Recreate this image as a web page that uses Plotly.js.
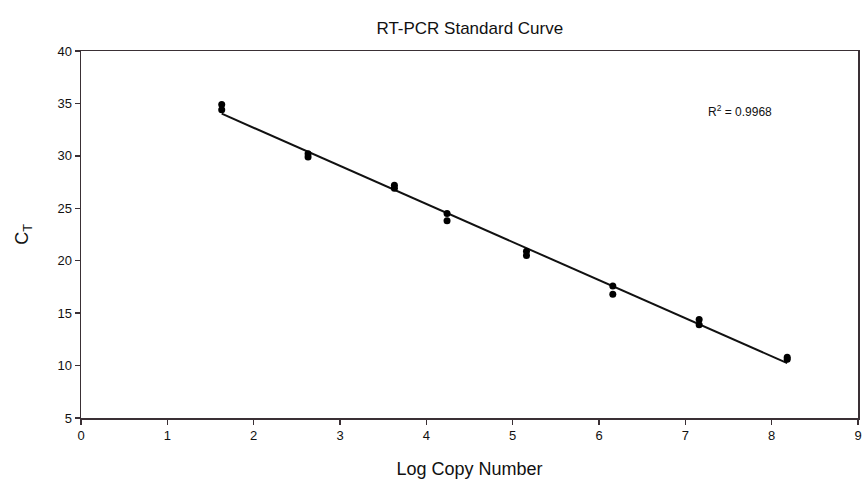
<!DOCTYPE html>
<html>
<head>
<meta charset="utf-8">
<script src="https://cdn.plot.ly/plotly-3.0.1.min.js"></script>
<style>html,body{margin:0;padding:0;background:#fff;}#chart{width:862px;height:480px;}</style>
</head>
<body>
<div id="chart"></div>
<script>
// Replicate measurements (log copy number, Ct)
const logCopy = [1.63, 1.63, 2.63, 2.63, 3.63, 3.63, 4.24, 4.24, 5.16, 5.16, 6.16, 6.16, 7.16, 7.16, 8.18, 8.18];
const ctValues = [34.9, 34.4, 30.2, 29.9, 27.2, 26.9, 24.5, 23.8, 20.9, 20.5, 17.6, 16.8, 14.4, 13.9, 10.8, 10.6];
const xTicks = [0, 1, 2, 3, 4, 5, 6, 7, 8, 9];
const yTicks = [5, 10, 15, 20, 25, 30, 35, 40];
const r2Label = "R<sup>2</sup> = 0.9968";

// least-squares fit of the points
const n = logCopy.length;
const mx = logCopy.reduce((a, b) => a + b, 0) / n;
const my = ctValues.reduce((a, b) => a + b, 0) / n;
let sxy = 0, sxx = 0;
for (let i = 0; i < n; i++) { sxy += (logCopy[i] - mx) * (ctValues[i] - my); sxx += (logCopy[i] - mx) ** 2; }
const slope = sxy / sxx, intercept = my - slope * mx;
const xMin = Math.min(...logCopy), xMax = Math.max(...logCopy);
const fitX = [xMin, xMax];
const fitY = fitX.map(x => intercept + slope * x);

const traces = [
  {x: fitX, y: fitY, mode: 'lines', line: {color: '#111', width: 2}, hoverinfo: 'skip'},
  {x: logCopy, y: ctValues, mode: 'markers', marker: {color: '#000', size: 7, symbol: 'circle'}}
];

const FONT = 'Liberation Sans, Arial, sans-serif';
const axisCommon = {
  showgrid: false, zeroline: false, showline: true, linecolor: '#3a3035', linewidth: 1.5,
  mirror: true, ticks: 'outside', ticklen: 5, tickcolor: '#3a3035', tickwidth: 1.5,
  tickfont: {family: FONT, size: 13, color: '#111'}
};

const layout = {
  width: 862, height: 480,
  margin: {l: 81, r: 4, t: 51, b: 62},
  paper_bgcolor: '#fff', plot_bgcolor: '#fff',
  showlegend: false,
  title: {text: 'RT-PCR Standard Curve', font: {family: FONT, size: 17, color: '#111'}, x: 0.545, xanchor: 'center', y: 0.941, yanchor: 'middle'},
  xaxis: Object.assign({}, axisCommon, {
    range: [0, 9], tickvals: xTicks, ticktext: xTicks.map(String),
    title: {text: 'Log Copy Number', font: {family: FONT, size: 18, color: '#111'}, standoff: 20}
  }),
  yaxis: Object.assign({}, axisCommon, {
    range: [5, 40], tickvals: yTicks, ticktext: yTicks.map(String),
    title: {text: 'C<sub>T</sub>', font: {family: FONT, size: 18, color: '#111'}, standoff: 24}
  }),
  annotations: [{
    x: 7.63, y: 34.3, xref: 'x', yref: 'y', text: r2Label, showarrow: false,
    font: {family: FONT, size: 12, color: '#111'}
  }]
};

Plotly.newPlot('chart', traces, layout, {displayModeBar: false, staticPlot: true});
</script>
</body>
</html>
